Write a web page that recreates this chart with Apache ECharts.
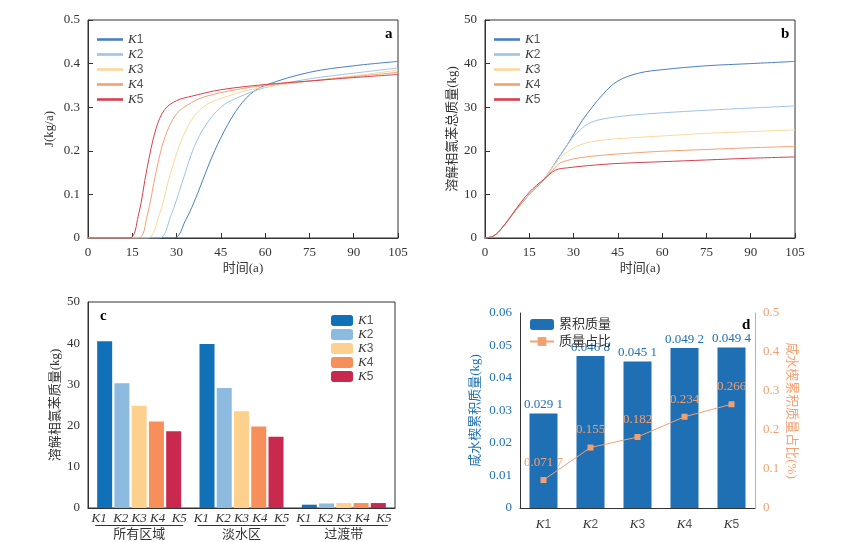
<!DOCTYPE html>
<html><head><meta charset="utf-8">
<script src="https://cdn.jsdelivr.net/npm/echarts@6/dist/echarts.min.js"></script>
<style>html,body{margin:0;background:#fff}#c{width:843px;height:542px}</style>
</head><body><div id="c"></div>
<script>
var names = ['K1', 'K2', 'K3', 'K4', 'K5'];
var lineColors = ['#4a7fc1', '#9ec3e5', '#fbd89a', '#f4a170', '#d64050'];
var barColors = ['#1071b8', '#8dbadf', '#fdd08e', '#f68f5a', '#c9284f'];

// panel a: J(kg/a) vs time, [t, J]
var fluxK1 = [[0,0],[29,0],[33,0.04],[37,0.1],[41,0.17],[45,0.23],[50,0.29],[55,0.33],[60,0.35],[75,0.38],[90,0.395],[105,0.405]];
var fluxK2 = [[0,0],[24,0],[28,0.05],[32,0.13],[36,0.21],[40,0.26],[45,0.3],[50,0.32],[60,0.345],[75,0.365],[90,0.378],[105,0.39]];
var fluxK3 = [[0,0],[20,0],[24,0.05],[28,0.15],[32,0.23],[36,0.28],[40,0.305],[45,0.32],[55,0.34],[75,0.36],[90,0.372],[105,0.385]];
var fluxK4 = [[0,0],[17,0],[20,0.05],[23,0.15],[26,0.23],[30,0.285],[35,0.31],[40,0.325],[50,0.34],[60,0.35],[75,0.36],[90,0.37],[105,0.38]];
var fluxK5 = [[0,0],[14,0],[17,0.05],[20,0.16],[23,0.25],[26,0.295],[30,0.315],[35,0.325],[45,0.34],[60,0.352],[75,0.36],[90,0.368],[105,0.375]];

// panel b: total dissolved mass (kg) vs time
var massK1 = [[0,0],[3,0.5],[6,2.5],[10,6],[15,10],[20,13.5],[25,18.5],[28,21.5],[33,27],[40,33],[45,36],[52,37.8],[60,38.6],[75,39.5],[90,40],[105,40.5]];
var massK2 = [[0,0],[3,0.5],[6,2.5],[10,6],[15,10],[20,13.5],[25,18.5],[28,21.5],[31,24],[35,26.2],[40,27.3],[50,28.2],[60,28.7],[75,29.3],[90,29.8],[105,30.3]];
var massK3 = [[0,0],[3,0.5],[6,2.5],[10,6],[15,10],[20,13.5],[25,18],[28,19.8],[32,21.3],[38,22.3],[50,23],[60,23.4],[75,24],[90,24.4],[105,24.8]];
var massK4 = [[0,0],[3,0.5],[6,2.5],[10,6],[15,10],[20,13.3],[25,17],[28,17.8],[32,18.4],[40,19],[50,19.5],[60,19.9],[75,20.3],[90,20.7],[105,21]];
var massK5 = [[0,0],[3,0.5],[6,2.5],[10,6.2],[15,10.5],[20,13.5],[24,15.6],[28,16.1],[35,16.6],[45,17.1],[60,17.5],[75,17.9],[90,18.3],[105,18.6]];

// panel c
var zones = ['所有区域', '淡水区', '过渡带'];
var zoneK1 = [40.5, 39.8, 0.8];
var zoneK2 = [30.3, 29.1, 1.1];
var zoneK3 = [24.8, 23.5, 1.2];
var zoneK4 = [21.0, 19.8, 1.2];
var zoneK5 = [18.6, 17.3, 1.2];

// panel d
var cumMass = [0.0291, 0.0468, 0.0451, 0.0492, 0.0494];
var massRatio = [0.0717, 0.155, 0.182, 0.234, 0.266];

var F = 'Liberation Serif, Noto Sans CJK SC';
var FS = 13;
var chart = echarts.init(document.getElementById('c'));
function ax(o) {
  return Object.assign({
    axisLine: {show: true, lineStyle: {color: '#333'}},
    axisTick: {inside: true, lineStyle: {color: '#333'}},
    splitLine: {show: false},
    axisLabel: {color: '#333', fontFamily: F, fontSize: FS},
    nameTextStyle: {color: '#333', fontFamily: F, fontSize: FS},
    nameLocation: 'middle'
  }, o);
}
var fmtK = function (s) { return '{i|K}' + s.slice(1); };
var legRich = {i: {fontStyle: 'italic', fontFamily: F, fontSize: FS, color: '#333'}};
var fluxes = [fluxK1, fluxK2, fluxK3, fluxK4, fluxK5];
var masses = [massK1, massK2, massK3, massK4, massK5];
var zonesVals = [zoneK1, zoneK2, zoneK3, zoneK4, zoneK5];
var fmtNum = function (v) { var s = String(v); return s.length > 5 ? s.slice(0, 5) + ' ' + s.slice(5) : s; };

var series = [];
names.forEach(function (n, i) {
  series.push({name: n, type: 'line', xAxisIndex: 0, yAxisIndex: 0, data: fluxes[i], smooth: 0.35, showSymbol: false, lineStyle: {width: 1, color: lineColors[i]}, itemStyle: {color: lineColors[i]}});
});
names.forEach(function (n, i) {
  series.push({name: n, type: 'line', xAxisIndex: 1, yAxisIndex: 1, data: masses[i], smooth: 0.35, showSymbol: false, lineStyle: {width: 1, color: lineColors[i]}, itemStyle: {color: lineColors[i]}});
});
names.forEach(function (n, i) {
  series.push({name: n + ' ', type: 'bar', xAxisIndex: 2, yAxisIndex: 2, data: zonesVals[i], barWidth: 15, barGap: '15%', itemStyle: {color: barColors[i]}});
});
series.push({name: '累积质量', type: 'bar', xAxisIndex: 3, yAxisIndex: 3, data: cumMass, barWidth: 28, itemStyle: {color: '#1f6fb5'},
  label: {show: true, position: 'top', distance: 2, color: '#1f6fb5', fontFamily: F, fontSize: FS, formatter: function (p) { return fmtNum(p.value); }}});
series.push({name: '质量占比', type: 'line', xAxisIndex: 3, yAxisIndex: 4, data: massRatio, symbol: 'rect', symbolSize: 6, lineStyle: {width: 1, color: '#f3a070'}, itemStyle: {color: '#f3a070'},
  label: {show: true, position: 'top', distance: 8, color: '#f3a070', fontFamily: F, fontSize: FS, formatter: function (p) { return fmtNum(p.value); }}});

var groupLabel = function (v) { return '{k|K1  K2 K3 K4  K5}\n{ln|}\n{g|' + v + '}'; };
var gridBox = {show: true, borderColor: '#333', borderWidth: 1, backgroundColor: 'transparent'};

chart.setOption({
  animation: false,
  title: [
    {text: 'a', left: 380, top: 22, textStyle: {fontFamily: F, fontSize: 15, fontWeight: 'bold', color: '#000'}},
    {text: 'b', left: 776, top: 22, textStyle: {fontFamily: F, fontSize: 15, fontWeight: 'bold', color: '#000'}},
    {text: 'c', left: 95, top: 304, textStyle: {fontFamily: F, fontSize: 15, fontWeight: 'bold', color: '#000'}},
    {text: 'd', left: 737, top: 313, textStyle: {fontFamily: F, fontSize: 15, fontWeight: 'bold', color: '#000'}}
  ],
  legend: [
    {data: names, left: 92, top: 28, orient: 'vertical', itemGap: 2, itemWidth: 26, itemHeight: 6, icon: 'path://M0,0h1v0.1h-1z', formatter: fmtK, textStyle: {rich: legRich}},
    {data: names, left: 489, top: 28, orient: 'vertical', itemGap: 2, itemWidth: 26, itemHeight: 6, icon: 'path://M0,0h1v0.1h-1z', formatter: fmtK, textStyle: {rich: legRich}},
    {data: names.map(function (n) { return n + ' '; }), left: 326, top: 309, orient: 'vertical', itemGap: 1, itemWidth: 22, itemHeight: 11, formatter: fmtK, textStyle: {rich: legRich}},
    {data: ['累积质量', '质量占比'], left: 524, top: 313, orient: 'vertical', itemGap: 4, itemWidth: 24, itemHeight: 11, textStyle: {fontFamily: F, fontSize: FS, color: '#333'}}
  ],
  grid: [
    Object.assign({left: 88, top: 20, width: 310, height: 218}, gridBox),
    Object.assign({left: 485, top: 20, width: 310, height: 218}, gridBox),
    Object.assign({left: 88, top: 302, width: 307, height: 206}, gridBox),
    {left: 520, top: 313, width: 235, height: 195}
  ],
  xAxis: [
    ax({type: 'value', gridIndex: 0, min: 0, max: 105, interval: 15, name: '时间(a)', nameGap: 24}),
    ax({type: 'value', gridIndex: 1, min: 0, max: 105, interval: 15, name: '时间(a)', nameGap: 24}),
    ax({type: 'category', gridIndex: 2, data: zones, axisTick: {show: false},
      axisLabel: {interval: 0, margin: 4, formatter: groupLabel, rich: {
        k: {fontStyle: 'italic', fontFamily: F, fontSize: FS, color: '#333'},
        ln: {width: 88, height: 1, backgroundColor: '#333'},
        g: {fontFamily: F, fontSize: FS, color: '#333', padding: [2, 0, 0, 0]}}}}),
    ax({type: 'category', gridIndex: 3, data: names, axisTick: {show: false},
      axisLabel: {formatter: fmtK, rich: {i: {fontStyle: 'italic', fontFamily: F, fontSize: FS, color: '#333'}}, margin: 10}})
  ],
  yAxis: [
    ax({type: 'value', gridIndex: 0, min: 0, max: 0.5, interval: 0.1, name: 'J(kg/a)', nameGap: 32}),
    ax({type: 'value', gridIndex: 1, min: 0, max: 50, interval: 10, name: '溶解相氯苯总质量(kg)', nameGap: 26}),
    ax({type: 'value', gridIndex: 2, min: 0, max: 50, interval: 10, name: '溶解相氯苯质量(kg)', nameGap: 26}),
    ax({type: 'value', gridIndex: 3, min: 0, max: 0.06, interval: 0.01, name: '咸水楔累积质量(kg)', nameGap: 38,
      axisLabel: {color: '#1f6fb5', fontFamily: F, fontSize: FS},
      nameTextStyle: {color: '#1f6fb5', fontFamily: F, fontSize: FS}}),
    ax({type: 'value', gridIndex: 3, position: 'right', min: 0, max: 0.5, interval: 0.1, name: '咸水楔累积质量占比(%)', nameGap: 30, nameRotate: 270,
      axisLine: {show: true, lineStyle: {color: '#f3a070'}}, axisTick: {inside: false, lineStyle: {color: '#f3a070'}},
      axisLabel: {color: '#f3a070', fontFamily: F, fontSize: FS},
      nameTextStyle: {color: '#f3a070', fontFamily: F, fontSize: FS}})
  ],
  series: series
});
</script></body></html>
